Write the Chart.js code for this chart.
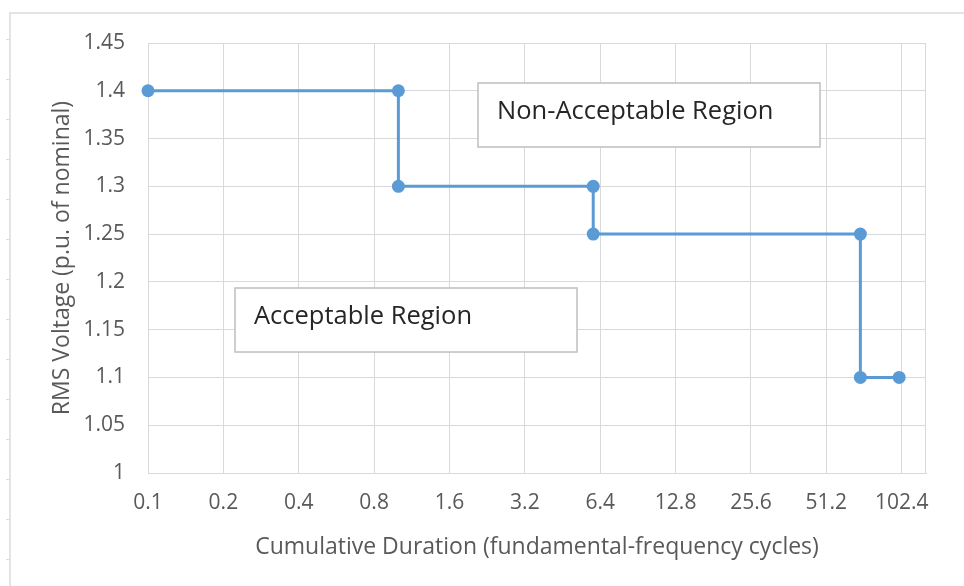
<!DOCTYPE html>
<html>
<head>
<meta charset="utf-8">
<script src="https://cdn.jsdelivr.net/npm/chart.js@4/dist/chart.umd.min.js"></script>
<style>
  html, body { margin: 0; padding: 0; background: #ffffff; }
  #wrap { width: 964px; height: 586px; position: relative; }
</style>
</head>
<body>
<div id="wrap"><canvas id="chart" width="964" height="586"></canvas></div>
<script>
// Voltage tolerance envelope: duration (cycles, log base 2 axis) vs. RMS voltage (p.u.)
const durationCycles = [0.1, 1, 1, 6, 6, 70, 70, 100];
const rmsVoltage     = [1.4, 1.4, 1.3, 1.3, 1.25, 1.25, 1.1, 1.1];

const xTickValues = [0.1, 0.2, 0.4, 0.8, 1.6, 3.2, 6.4, 12.8, 25.6, 51.2, 102.4];
const xTickLabels = ['0.1', '0.2', '0.4', '0.8', '1.6', '3.2', '6.4', '12.8', '25.6', '51.2', '102.4'];
const yTickValues = [1, 1.05, 1.1, 1.15, 1.2, 1.25, 1.3, 1.35, 1.4, 1.45];
const yTickLabels = ['1', '1.05', '1.1', '1.15', '1.2', '1.25', '1.3', '1.35', '1.4', '1.45'];

const regionNotes = ['Non-Acceptable Region', 'Acceptable Region'];

const FONT = "'Open Sans', 'Liberation Sans', sans-serif";
const GRID = '#d9d9d9';
const TEXT = '#595959';
const BLUE = '#5b9bd5';

// Outer sheet frame and the two region text boxes
const decorations = {
  id: 'decorations',
  beforeDraw(chart) {
    const ctx = chart.ctx;
    ctx.save();
    ctx.fillStyle = '#ffffff';
    ctx.fillRect(0, 0, chart.width, chart.height);
    ctx.strokeStyle = '#dcdcdc';
    ctx.lineWidth = 1.5;
    ctx.beginPath();
    ctx.moveTo(10, chart.height);
    ctx.lineTo(10, 13);
    ctx.lineTo(chart.width, 13);
    ctx.stroke();
    ctx.lineWidth = 1;
    ctx.beginPath();
    for (let y = 39; y < chart.height; y += 40) {
      ctx.moveTo(6, y + 0.5);
      ctx.lineTo(10, y + 0.5);
    }
    ctx.stroke();
    ctx.restore();
  },
  beforeDatasetsDraw(chart) {
    const ctx = chart.ctx;
    const ca = chart.chartArea;
    ctx.save();
    // plot area outline
    ctx.strokeStyle = GRID;
    ctx.lineWidth = 1;
    ctx.strokeRect(ca.left + 0.5, ca.top + 0.5, ca.right - ca.left - 1, ca.bottom - ca.top);
    ctx.restore();
  },
  afterDraw(chart) {
    const ctx = chart.ctx;
    const boxes = [
      { text: regionNotes[0], x: 478, y: 83, w: 342, h: 64 },
      { text: regionNotes[1], x: 235, y: 288, w: 342, h: 64 }
    ];
    ctx.save();
    boxes.forEach(b => {
      ctx.fillStyle = '#ffffff';
      ctx.fillRect(b.x, b.y, b.w, b.h);
      ctx.strokeStyle = '#bfbfbf';
      ctx.lineWidth = 1.5;
      ctx.strokeRect(b.x, b.y, b.w, b.h);
      ctx.fillStyle = '#262626';
      ctx.font = "25.5px " + FONT;
      ctx.textBaseline = 'middle';
      ctx.textAlign = 'left';
      ctx.fillText(b.text, b.x + 19, b.y + b.h / 2 - 3);
    });
    ctx.restore();
  }
};

new Chart(document.getElementById('chart'), {
  type: 'line',
  data: {
    datasets: [{
      data: durationCycles.map((d, i) => ({ x: d, y: rmsVoltage[i] })),
      borderColor: BLUE,
      backgroundColor: BLUE,
      borderWidth: 3,
      pointRadius: 6.5,
      pointBorderWidth: 0,
      pointBackgroundColor: BLUE,
      tension: 0,
      fill: false,
      clip: false
    }]
  },
  plugins: [decorations],
  options: {
    responsive: false,
    animation: false,
    devicePixelRatio: 1,
    layout: { padding: { left: 0, top: 43, right: 38, bottom: 0 } },
    plugins: { legend: { display: false }, tooltip: { enabled: false } },
    scales: {
      x: {
        type: 'logarithmic',
        min: 0.1,
        max: 128,
        afterBuildTicks: s => { s.ticks = xTickValues.map(v => ({ value: v })); },
        afterFit: s => { s.height = 586 - 473; },
        grid: { color: GRID, lineWidth: 1, drawTicks: false },
        border: { color: GRID },
        ticks: {
          autoSkip: false,
          maxRotation: 0,
          padding: 17,
          color: TEXT,
          font: { family: FONT, size: 21 },
          callback: (v, i) => xTickLabels[i]
        },
        title: {
          display: true,
          text: 'Cumulative Duration (fundamental-frequency cycles)',
          color: TEXT,
          font: { family: FONT, size: 23 },
          padding: { top: 0, bottom: 25 }
        }
      },
      y: {
        type: 'linear',
        min: 1,
        max: 1.45,
        afterBuildTicks: s => { s.ticks = yTickValues.map(v => ({ value: v })); },
        afterFit: s => { s.width = 148; },
        grid: { color: GRID, lineWidth: 1, drawTicks: false },
        border: { color: GRID },
        ticks: {
          padding: 23,
          color: TEXT,
          font: { family: FONT, size: 21 },
          callback: (v, i) => yTickLabels[i]
        },
        title: {
          display: true,
          text: 'RMS Voltage (p.u. of nominal)',
          color: TEXT,
          font: { family: FONT, size: 23 },
          padding: { top: 49, bottom: 0 }
        }
      }
    }
  }
});
</script>
</body>
</html>
